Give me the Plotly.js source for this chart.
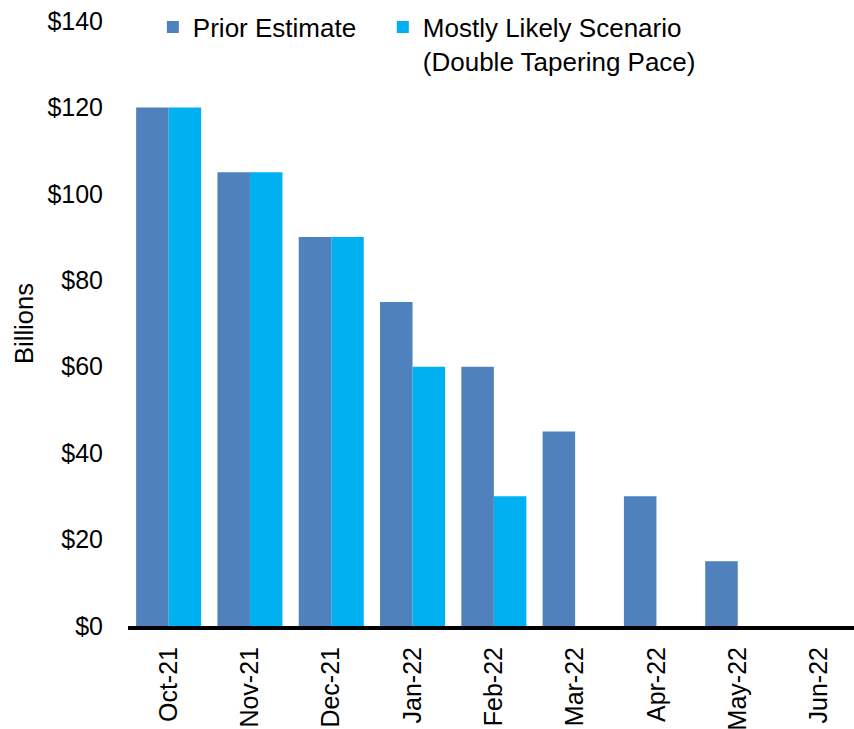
<!DOCTYPE html>
<html>
<head>
<meta charset="utf-8">
<script src="https://cdn.plot.ly/plotly-3.0.1.min.js"></script>
<style>
  html, body { margin: 0; padding: 0; background: #fff; }
  #chart { width: 854px; height: 729px; }
</style>
</head>
<body>
<div id="chart"></div>
<script>
// Monthly asset purchase pace, in billions of dollars
const months = ["Oct-21", "Nov-21", "Dec-21", "Jan-22", "Feb-22", "Mar-22", "Apr-22", "May-22", "Jun-22"];
const priorEstimate = [120, 105, 90, 75, 60, 45, 30, 15, 0];
const likelyScenario = [120, 105, 90, 60, 30, 0, 0, 0, 0];
const yTickValues = [0, 20, 40, 60, 80, 100, 120, 140];
const yTickLabels = ["$0", "$20", "$40", "$60", "$80", "$100", "$120", "$140"];

const FONT = "Liberation Sans, Arial, sans-serif";
// trailing no-break spaces widen the first legend entry
const LEGEND_PAD = "\u00A0\u00A0\u00A0";

const traces = [
  {
    type: "bar",
    name: "Prior Estimate" + LEGEND_PAD,
    x: months,
    y: priorEstimate,
    marker: { color: "#4F81BD", line: { width: 0 } },
    hoverinfo: "x+y"
  },
  {
    type: "bar",
    name: "Mostly Likely Scenario<br>(Double Tapering Pace)",
    x: months,
    y: likelyScenario,
    marker: { color: "#00B0F0", line: { width: 0 } },
    hoverinfo: "x+y"
  }
];

const layout = {
  width: 854,
  height: 729,
  margin: { l: 128, r: 0, t: 21, b: 103, autoexpand: false },
  paper_bgcolor: "#ffffff",
  plot_bgcolor: "#ffffff",
  font: { family: FONT, size: 25, color: "#000000" },
  barmode: "group",
  bargap: 0.2,
  bargroupgap: 0,
  showlegend: true,
  legend: {
    orientation: "h",
    xref: "container",
    yref: "container",
    x: 0.179,
    xanchor: "left",
    y: 0.995,
    yanchor: "top",
    valign: "top",
    font: { family: FONT, size: 26, color: "#000000" },
    bgcolor: "rgba(0,0,0,0)",
    borderwidth: 0,
    traceorder: "normal",
    itemclick: false
  },
  xaxis: {
    type: "category",
    range: [-0.5, 8.43],
    showline: true,
    linecolor: "#000000",
    linewidth: 4,
    ticks: "",
    tickangle: -90,
    ticklabelstandoff: 7,
    showgrid: false,
    zeroline: false,
    tickfont: { family: FONT, size: 25, color: "#000000" },
    fixedrange: true
  },
  yaxis: {
    range: [0, 140],
    tickmode: "array",
    tickvals: yTickValues,
    ticktext: yTickLabels,
    showline: false,
    showgrid: false,
    zeroline: false,
    ticks: "",
    ticklabelstandoff: 24,
    tickfont: { family: FONT, size: 25, color: "#000000" },
    title: { text: "Billions", font: { family: FONT, size: 25.5, color: "#000000" }, standoff: 6 },
    fixedrange: true
  }
};

Plotly.newPlot("chart", traces, layout, { displayModeBar: false, staticPlot: true });
</script>
</body>
</html>
